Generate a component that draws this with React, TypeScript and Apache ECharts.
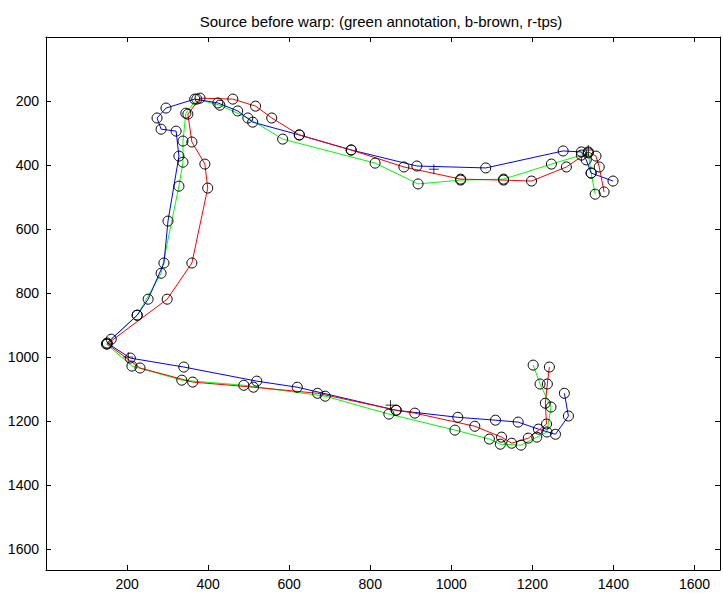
import React, { useEffect, useRef } from "react";
import * as echarts from "echarts";

const titleText = "Source before warp: (green annotation, b-brown, r-tps)";

const xTicks = [200, 400, 600, 800, 1000, 1200, 1400, 1600];
const yTicks = [200, 400, 600, 800, 1000, 1200, 1400, 1600];

// green: annotation
const greenPts: [number, number][] = [
  [1355, 491], [1345, 425], [1338, 362], [1321, 369], [1247, 397], [1129, 444],
  [1023, 447], [918, 459], [812, 394], [584, 319], [498, 253], [429, 213],
  [372, 194], [345, 238], [338, 325], [338, 391], [328, 466], [284, 738],
  [225, 869], [149, 959], [212, 1028], [335, 1072], [488, 1088], [689, 1122],
  [846, 1178], [1009, 1228], [1094, 1256], [1121, 1272], [1172, 1275],
  [1211, 1250], [1236, 1234], [1246, 1156], [1219, 1084], [1202, 1025],
];

// blue: b-brown
const bluePts: [number, number][] = [
  [1399, 450], [1345, 425], [1333, 384], [1321, 359], [1276, 356], [1085, 409],
  [915, 403], [753, 353], [625, 306], [510, 266], [473, 231], [424, 206],
  [367, 194], [296, 222], [274, 253], [284, 288], [321, 294], [328, 372],
  [301, 575], [291, 706], [252, 819], [225, 869], [161, 944], [151, 956],
  [208, 1003], [340, 1031], [520, 1075], [620, 1094], [864, 1166], [1016, 1188],
  [1109, 1197], [1165, 1203], [1215, 1225], [1257, 1241], [1289, 1184], [1279, 1113],
];

// red: r-tps
const redPts: [number, number][] = [
  [1377, 484], [1365, 406], [1357, 372], [1338, 359], [1284, 406], [1198, 450],
  [1129, 447], [1023, 444], [883, 406], [753, 353], [625, 306], [557, 253],
  [517, 216], [461, 194], [380, 191], [350, 241], [360, 328], [392, 397],
  [399, 472], [360, 706], [299, 819], [151, 959], [232, 1034], [362, 1078],
  [512, 1094], [670, 1113], [864, 1166], [910, 1175], [1058, 1216], [1124, 1250],
  [1149, 1269], [1190, 1253], [1235, 1209], [1232, 1144], [1237, 1084], [1242, 1031],
];

// landmarks drawn as +
const plusPts: [number, number][] = [
  [957, 413], [1338, 353], [203, 1000], [850, 1150],
];

const X_MIN = 0;
const X_MAX = 1663;
const Y_MIN = 0;
const Y_MAX = 1665;

const FONT = "'Liberation Sans', Arial, Helvetica, sans-serif";

export default function App() {
  const ref = useRef<HTMLDivElement>(null);

  useEffect(() => {
    if (!ref.current) return;
    const chart = echarts.init(ref.current, null, { renderer: "svg" });

    const labelFmt = (ticks: number[]) => (v: number) =>
      ticks.indexOf(Math.round(v)) >= 0 ? String(Math.round(v)) : "";

    const axisCommon = {
      type: "value" as const,
      splitLine: { show: false },
      axisLine: { show: true, onZero: false, lineStyle: { color: "#000", width: 1 } },
      axisTick: { show: true, inside: true, length: 5, lineStyle: { color: "#000", width: 1 } },
    };

    const lineSeries = (name: string, pts: [number, number][], color: string) => ({
      name,
      type: "line" as const,
      xAxisIndex: 0,
      yAxisIndex: 0,
      data: pts,
      showAllSymbol: true,
      symbol: "circle",
      symbolSize: 10,
      lineStyle: { color, width: 1 },
      itemStyle: { color: "rgba(0,0,0,0)", borderColor: "#000", borderWidth: 1 },
      emphasis: { disabled: true },
      z: 2,
    });

    chart.setOption({
      animation: false,
      backgroundColor: "#fff",
      title: {
        text: titleText,
        left: 376,
        top: 9,
        textAlign: "center",
        textStyle: { fontFamily: FONT, fontSize: 15, fontWeight: "normal", color: "#000" },
      },
      grid: { left: 46, right: 1, top: 37, bottom: 23, containLabel: false },
      xAxis: [
        {
          ...axisCommon,
          position: "bottom",
          min: X_MIN,
          max: X_MAX,
          interval: 200,
          axisLabel: {
            show: true,
            margin: 7,
            fontFamily: FONT,
            fontSize: 14,
            color: "#000",
            formatter: labelFmt(xTicks),
            showMinLabel: false,
          },
        },
        {
          ...axisCommon,
          position: "top",
          min: X_MIN,
          max: X_MAX,
          interval: 200,
          axisLabel: { show: false },
        },
      ],
      yAxis: [
        {
          ...axisCommon,
          position: "left",
          inverse: true,
          min: Y_MIN,
          max: Y_MAX,
          interval: 200,
          axisLabel: {
            show: true,
            margin: 7,
            fontFamily: FONT,
            fontSize: 14,
            color: "#000",
            formatter: labelFmt(yTicks),
          },
        },
        {
          ...axisCommon,
          position: "right",
          inverse: true,
          min: Y_MIN,
          max: Y_MAX,
          interval: 200,
          axisLabel: { show: false },
        },
      ],
      series: [
        lineSeries("green annotation", greenPts, "#00ff00"),
        lineSeries("b-brown", bluePts, "#0000ff"),
        lineSeries("r-tps", redPts, "#ff0000"),
        {
          name: "landmarks",
          type: "scatter",
          data: plusPts,
          symbol: "path://M5,0 L5,10 M0,5 L10,5",
          symbolSize: 10,
          itemStyle: { color: "rgba(0,0,0,0)", borderColor: "#000", borderWidth: 1 },
          emphasis: { disabled: true },
          z: 3,
        },
      ],
    });

    return () => chart.dispose();
  }, []);

  return (
    <div
      ref={ref}
      style={{ position: "fixed", left: 0, top: 0, width: 723, height: 593, background: "#fff" }}
    />
  );
}
